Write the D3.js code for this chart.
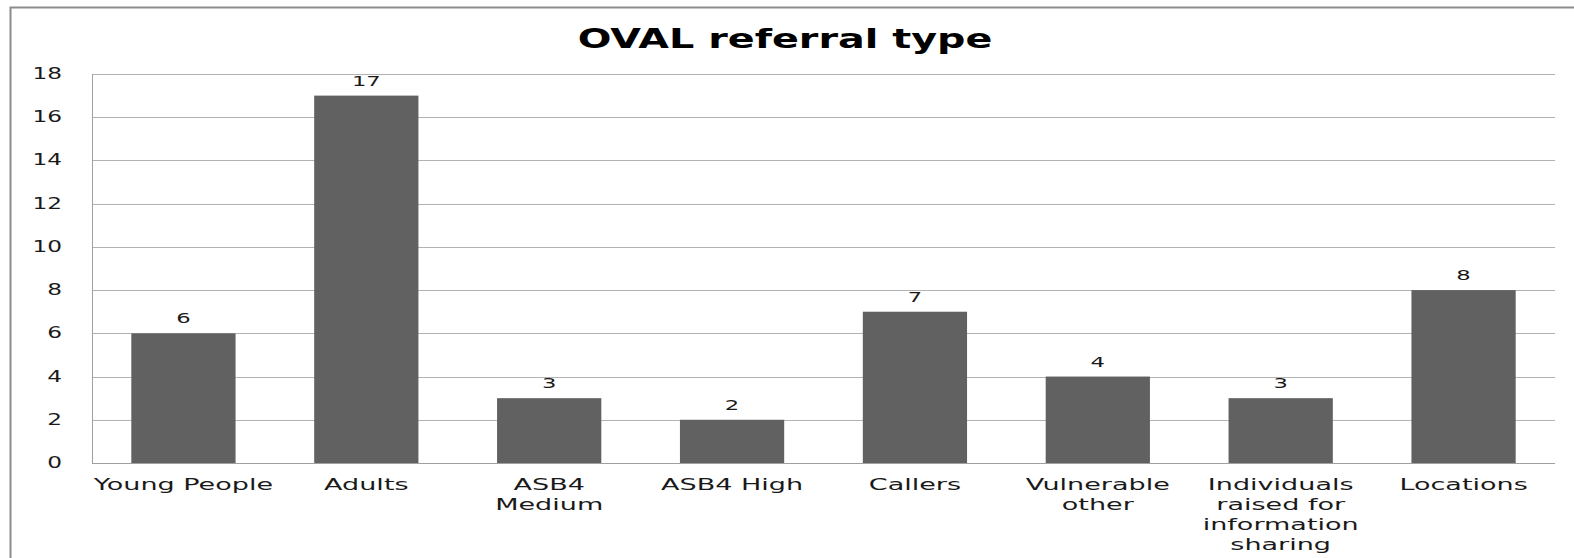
<!DOCTYPE html>
<html><head><meta charset="utf-8">
<script src="https://cdn.jsdelivr.net/npm/d3@7"></script>
<style>body{margin:0;background:#fff}text{font-family:"DejaVu Sans",Verdana,sans-serif}</style>
</head><body>
<svg id="c" width="1574" height="558"></svg>
<script>
const categories = [["Young People"],["Adults"],["ASB4","Medium"],["ASB4 High"],["Callers"],["Vulnerable","other"],["Individuals","raised for","information","sharing"],["Locations"]];
const values = [6,17,3,2,7,4,3,8];
const yTicks = [0,2,4,6,8,10,12,14,16,18];
const title = "OVAL referral type";

const svg = d3.select("#c");
const W=1574,H=558;
const m={l:92,t:74,r:1555,b:463};
const SX=1.55;

// outer frame
svg.append("path").attr("d",`M10.5,${H} V7.5 H${W}`).attr("fill","none").attr("stroke","#8c8c8c").attr("stroke-width",2);

const x=d3.scaleBand().domain(d3.range(categories.length)).range([m.l,m.r]).paddingInner(0.43).paddingOuter(0.215);
const y=d3.scaleLinear().domain([0,18]).range([m.b,m.t]);

// gridlines
svg.append("g").selectAll("line").data(yTicks.slice(1)).join("line")
 .attr("x1",m.l).attr("x2",m.r).attr("y1",d=>Math.round(y(d))+0.5).attr("y2",d=>Math.round(y(d))+0.5)
 .attr("stroke","#b3b3b3");

// bars
svg.append("g").selectAll("rect").data(values).join("rect")
 .attr("x",(d,i)=>x(i)).attr("width",x.bandwidth())
 .attr("y",d=>y(d)).attr("height",d=>y(0)-y(d)).attr("fill","#616161");

// axes lines
svg.append("line").attr("x1",m.l+0.5).attr("x2",m.l+0.5).attr("y1",m.t).attr("y2",m.b).attr("stroke","#a0a0a0");
svg.append("line").attr("x1",m.l).attr("x2",m.r).attr("y1",m.b+0.5).attr("y2",m.b+0.5).attr("stroke","#a0a0a0");

function stretched(g,xx,yy,txt,size,anchor,sx,weight){
  return g.append("text").attr("transform",`translate(${xx},${yy}) scale(${sx},1)`)
   .attr("text-anchor",anchor).attr("font-size",size).attr("font-weight",weight||"normal").attr("fill","#1a1a1a").text(txt);
}
// y tick labels
const gy=svg.append("g");
yTicks.forEach(t=>stretched(gy,62,y(t)+5,d3.format("d")(t),15,"end",SX));

// data labels
const gl=svg.append("g");
values.forEach((v,i)=>stretched(gl,x(i)+x.bandwidth()/2,y(v)-10,v,14,"middle",1.62));

// category labels
const gc=svg.append("g");
categories.forEach((lines,i)=>lines.forEach((s,j)=>stretched(gc,x(i)+x.bandwidth()/2,490+j*20,s,16,"middle",1.69)));

// title
stretched(svg,785,48,title,27,"middle",1.47,"bold").attr("fill","#000");
</script>
</body></html>
